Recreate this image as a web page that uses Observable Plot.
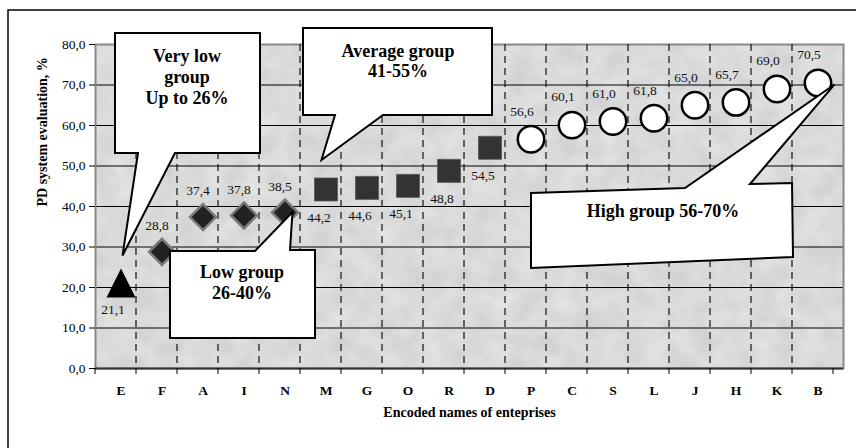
<!DOCTYPE html>
<html><head><meta charset="utf-8">
<script src="https://cdn.jsdelivr.net/npm/d3@7"></script>
<script src="https://cdn.jsdelivr.net/npm/@observablehq/plot@0.6"></script>
<style>
body{margin:0;background:#fff}
#chart{position:relative;width:856px;height:448px;overflow:hidden}
</style>
</head><body><div id="chart"></div>
<script>
// ---- data ----
const categories = ["E","F","A","I","N","M","G","O","R","D","P","C","S","L","J","H","K","B"];
const values = [21.1,28.8,37.4,37.8,38.5,44.2,44.6,45.1,48.8,54.5,56.6,60.1,61.0,61.8,65.0,65.7,69.0,70.5];
const groups = ["very low","low","low","low","low","average","average","average","average","average",
  "high","high","high","high","high","high","high","high"];
const yTicks = [0,10,20,30,40,50,60,70,80];
const xTitle = "Encoded names of enteprises";
const yTitle = "PD system evaluation, %";
const calloutTexts = {
  "very low": ["Very low","group","Up to 26%"],
  "low": ["Low group","26-40%"],
  "average": ["Average group","41-55%"],
  "high": ["High group 56-70%"]
};

// ---- layout / style ----
const W = 856, H = 448;
const M = {top:44, right:13, bottom:80, left:95};
const FONT = "'Liberation Serif','Times New Roman',serif";
const fmt = v => d3.format(".1f")(v).replace(".", ",");
const data = categories.map((c,i)=>({cat:c, value:values[i], group:groups[i]}));

const triangle = {draw(ctx,size){const h=Math.sqrt(size/Math.PI);ctx.moveTo(0,-h);ctx.lineTo(h,h);ctx.lineTo(-h,h);ctx.closePath();}};
const diamond = {draw(ctx,size){const h=Math.sqrt(size/Math.PI);ctx.moveTo(0,-h);ctx.lineTo(h,0);ctx.lineTo(0,h);ctx.lineTo(-h,0);ctx.closePath();}};
const square = {draw(ctx,size){const h=Math.sqrt(size/Math.PI);ctx.rect(-h,-h,2*h,2*h);}};

const styles = {
  "very low": {symbol:triangle, r:14.5, fill:"#000", stroke:"none", strokeWidth:0, dx:-8, dy:27},
  "low": {symbol:diamond, r:13, fill:"#222", stroke:"#7a7a7a", strokeWidth:2.5, dx:-5, dy:-26},
  "average": {symbol:square, r:11.5, fill:"#333", stroke:"#555", strokeWidth:0.8, dx:-7, dy:28},
  "high": {symbol:"circle", r:13.2, fill:"#fff", stroke:"#000", strokeWidth:2.5, dx:-9, dy:-28}
};

const groupMarks = Object.entries(styles).flatMap(([g,s]) => {
  const d = data.filter(p => p.group === g);
  return [
    Plot.dot(d, {x:"cat", y:"value", symbol:()=>s.symbol, r:s.r, fill:s.fill, stroke:s.stroke, strokeWidth:s.strokeWidth}),
    Plot.text(d, {x:"cat", y:"value", text:p=>fmt(p.value), dx:s.dx, dy:s.dy, fill:"#111", fontSize:13.5})
  ];
});

const plot = Plot.plot({
  width: W, height: H,
  marginTop: M.top, marginRight: M.right, marginBottom: M.bottom, marginLeft: M.left,
  style: {fontFamily: FONT, fontSize: "13.5px", color: "#000", background: "transparent"},
  x: {type:"band", domain: categories, padding: 0},
  y: {domain: [0, 80]},
  marks: [
    Plot.frame({fill:"#d2d2d2"}),
    Plot.frame({fill:"#fff"}),
    Plot.gridY(yTicks.filter(v => v > 0 && v < 80), {stroke:"#000", strokeOpacity:1, strokeWidth:1}),
    Plot.frame({stroke:"#888", strokeWidth:2}),
    Plot.ruleY([0], {stroke:"#333", strokeWidth:2}),
    Plot.axisY({ticks: yTicks, tickFormat: fmt, tickSize: 6, tickPadding: 4, label: null, fontSize: 13.5}),
    Plot.axisX({tickSize: 0, tickPadding: 17, label: null, fontWeight: "bold", fontSize: 13.5}),
    ...groupMarks,
    Plot.text([yTitle], {text: d=>d, frameAnchor:"left", rotate:-90, dx:-53, fontWeight:"bold", fontSize:14}),
    Plot.text([xTitle], {text: d=>d, frameAnchor:"bottom", dy:48, fontWeight:"bold", fontSize:14})
  ]
});
document.getElementById("chart").appendChild(plot);

// ---- post-render decorations using the plot's own scales ----
const svg = d3.select(plot.tagName.toLowerCase() === "svg" ? plot : plot.querySelector("svg"));
const xs = plot.scale("x"), ys = plot.scale("y");
const cx = c => xs.apply(c) + xs.bandwidth / 2;
const cy = v => ys.apply(v);
const x0 = xs.range[0];
const yTop = ys.apply(80), yBot = ys.apply(0);

// mottled texture
const defs = svg.insert("defs", ":first-child");
const f = defs.append("filter").attr("id","mottle").attr("x",0).attr("y",0).attr("width","100%").attr("height","100%");
f.append("feTurbulence").attr("type","fractalNoise").attr("baseFrequency","0.045").attr("numOctaves",3).attr("seed",7).attr("result","n");
f.append("feColorMatrix").attr("in","n").attr("type","matrix")
  .attr("values","0 0 0 0 1  0 0 0 0 1  0 0 0 0 1  0.6 0 0 0 -0.12").attr("result","c");
f.append("feComposite").attr("in","c").attr("in2","SourceGraphic").attr("operator","in");
const frames = svg.selectAll('[aria-label="frame"]').nodes();
if (frames[1]) d3.select(frames[1]).attr("filter","url(#mottle)");

// dashed vertical separators + boundary ticks
const firstDot = svg.select('g[aria-label="dot"]').node();
const sep = svg.insert("g", () => firstDot);
const bounds = d3.range(categories.length + 1).map(i => x0 + i * xs.step);
sep.selectAll("line.d").data(bounds.slice(1, -1)).join("line")
  .attr("x1", d=>d).attr("x2", d=>d).attr("y1", yTop).attr("y2", yBot)
  .attr("stroke", "#111").attr("stroke-width", 1.2).attr("stroke-dasharray", "7,5");
sep.selectAll("line.t").data(bounds).join("line").attr("class","t")
  .attr("x1", d=>d).attr("x2", d=>d).attr("y1", yBot).attr("y2", yBot + 6)
  .attr("stroke", "#000").attr("stroke-width", 1);

// callouts
const pt = c => [cx(c), cy(values[categories.indexOf(c)])];
const [ex, ey] = pt("E"), [mx, my] = pt("M"), [nx, ny] = pt("N"), [bx, by] = pt("B");
const callouts = [
  {g:"very low", pts:[[115,33],[260,33],[260,153],[175,153],[ex+2,ey-27],[138,153],[115,153]], tx:187, ty:62, lh:21},
  {g:"average", pts:[[303,28],[492,28],[492,115],[383,115],[mx-4,my-29],[335,115],[303,115]], tx:398, ty:57, lh:20},
  {g:"low", pts:[[170,251],[255,251],[nx+8,ny],[290,250],[315,250],[315,338],[170,338]], tx:242, ty:278, lh:21},
  {g:"high", pts:[[531,193],[685,188],[bx+17,by+2],[750,184],[792,183],[793,257],[531,268]], tx:663, ty:217, lh:20}
];
const cg = svg.append("g");
for (const c of callouts) {
  cg.append("path").attr("d", "M" + c.pts.map(p => p.join(",")).join("L") + "Z")
    .attr("fill", "#fff").attr("stroke", "#000").attr("stroke-width", 2).attr("stroke-linejoin", "miter");
  calloutTexts[c.g].forEach((t, i) => {
    cg.append("text").attr("x", c.tx).attr("y", c.ty + i * c.lh).attr("text-anchor", "middle")
      .attr("font-family", FONT).attr("font-weight", "bold").attr("font-size", 18).attr("fill", "#000").text(t);
  });
}

// outer chart border (cropped on right and bottom)
svg.append("path").attr("d", `M8,${H} V10 H${W}`).attr("fill","none").attr("stroke","#000").attr("stroke-width",1.5);
</script>
</body></html>
